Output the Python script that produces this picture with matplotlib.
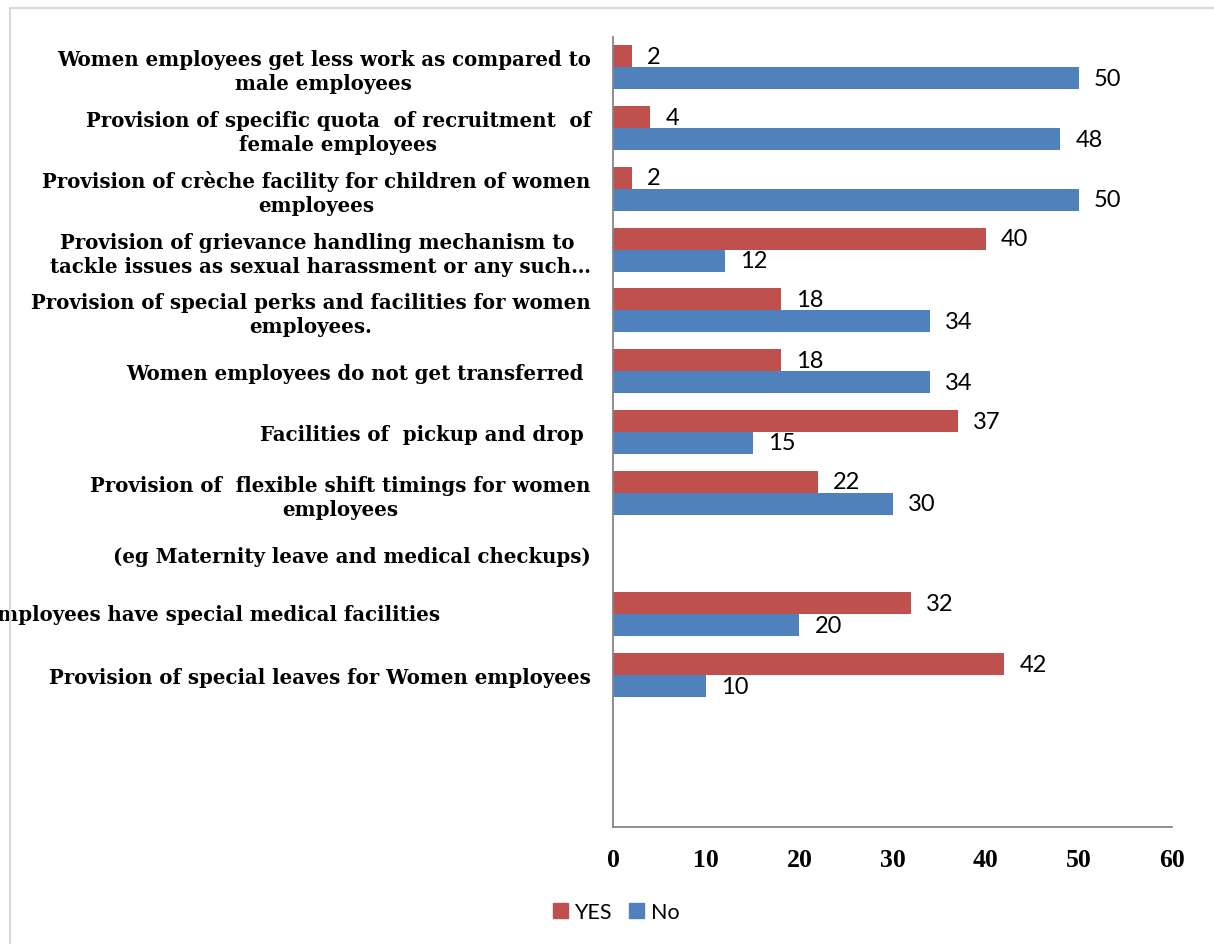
import numpy as np
import matplotlib
matplotlib.use('Agg')
import matplotlib.pyplot as plt
from matplotlib.lines import Line2D
from matplotlib.patches import Patch

# categories top to bottom, as they appear on the chart
categories = [
    'Women employees get less work as compared to\nmale employees',
    'Provision of specific quota  of recruitment  of\nfemale employees',
    'Provision of cr\u00e8che facility for children of women\nemployees',
    'Provision of grievance handling mechanism to \ntackle issues as sexual harassment or any such\u2026',
    'Provision of special perks and facilities for women\nemployees.',
    'Women employees do not get transferred ',
    'Facilities of  pickup and drop ',
    'Provision of  flexible shift timings for women\nemployees',
    '(eg Maternity leave and medical checkups)',
    'Women employees have special medical facilities',
    'Provision of special leaves for Women employees',
]
yes_vals = [2, 4, 2, 40, 18, 18, 37, 22, np.nan, 32, 42]
no_vals = [50, 48, 50, 12, 34, 34, 15, 30, np.nan, 20, 10]
xticks = [0, 10, 20, 30, 40, 50, 60]

red = '#C0504D'
blue = '#4F81BD'
serif = 'Liberation Serif'
label_serif = 'DejaVu Serif'
sans = 'Lato'

W, H = 1214, 945
fig = plt.figure(figsize=(W / 100, H / 100), dpi=100)
ax = fig.add_axes([613 / W, 1 - 828 / H, (1172 - 613) / W, (828 - 38) / H])

y = np.arange(len(categories))
bh = 0.362
b1 = ax.barh(y - bh / 2, yes_vals, height=bh, color=red, label='YES')
b2 = ax.barh(y + bh / 2, no_vals, height=bh, color=blue, label='No')

for bars, vals in ((b1, yes_vals), (b2, no_vals)):
    labs = ['' if np.isnan(v) else '%d' % v for v in vals]
    ax.bar_label(bars, labels=labs, padding=11, fontsize=17,
                 fontfamily=sans, color='black')

ax.set_ylim(len(categories) + 1.5, -0.5)
ax.set_xlim(0, 60)
ax.set_xticks(xticks)
ax.set_xticklabels([str(t) for t in xticks], fontfamily=serif,
                   fontweight='bold', fontsize=18.5)
ax.set_yticks(y)
lbl_font = dict(fontfamily=label_serif, fontweight='bold', fontsize=14.2)
ax.set_yticklabels(categories, multialignment='center', linespacing=1.25,
                   **lbl_font)
ax.tick_params(axis='both', length=0)
ax.tick_params(axis='x', pad=15)
ax.tick_params(axis='y', pad=16)

# the medical facilities label sits further left and runs off the chart
med = 9
ax.get_yticklabels()[med].set_visible(False)
ax.annotate(categories[med], xy=(0, med), xycoords=('axes fraction', 'data'),
            xytext=(-173, 0), textcoords='offset pixels', ha='right',
            va='center', annotation_clip=False, **lbl_font)

for s in ('top', 'right'):
    ax.spines[s].set_visible(False)
for s in ('left', 'bottom'):
    ax.spines[s].set_color('#868686')
    ax.spines[s].set_linewidth(1.3)

handles = [Patch(color=red), Patch(color=blue)]
fig.legend(handles, ['YES', 'No'], loc='center',
           bbox_to_anchor=(616 / W, 1 - 913 / H), ncol=2, frameon=False,
           prop={'family': sans, 'size': 15.5}, handlelength=0.7,
           handleheight=0.7, handletextpad=0.3, columnspacing=0.8)

# outer chart border (top and left visible)
fig.add_artist(Line2D([10 / W, 1], [1 - 9 / H, 1 - 9 / H], color='#d9d9d9',
                      lw=1.5, transform=fig.transFigure))
fig.add_artist(Line2D([10 / W, 10 / W], [0, 1 - 9 / H], color='#d9d9d9',
                      lw=1.5, transform=fig.transFigure))

fig.savefig('out.png', dpi=100)
